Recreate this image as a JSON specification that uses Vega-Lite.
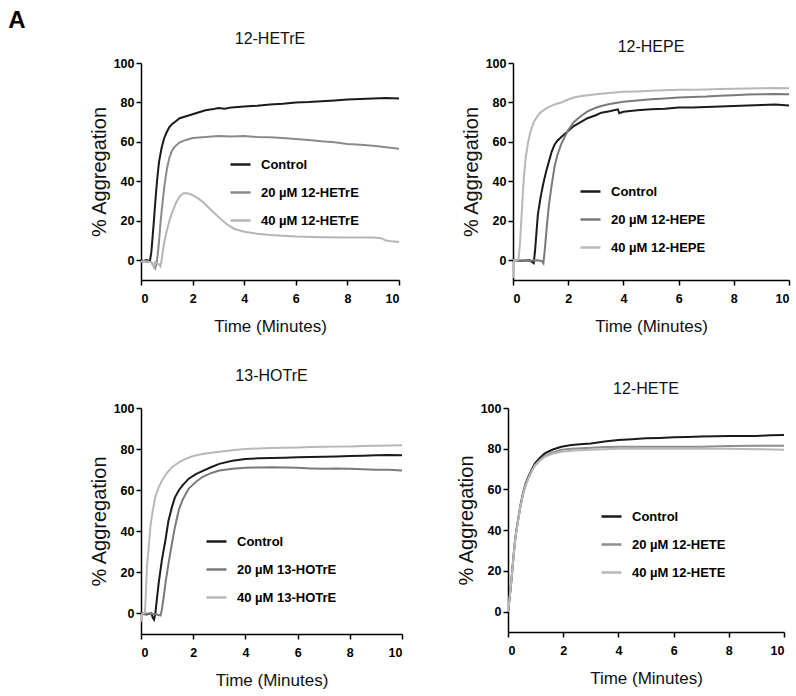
{
  "$schema": "https://vega.github.io/schema/vega-lite/v6.json",
  "padding": {"left": 8, "top": 9, "right": 5, "bottom": 5},
  "title": {"text": "A", "anchor": "start", "frame": "bounds", "fontSize": 24, "fontWeight": "bold", "font": "Liberation Sans", "color": "#000", "dx": -81, "dy": 2, "offset": 0},
  "datasets": {
    "d": [
      {"p":1,"s":"Control","t":0,"v":0.3},{"p":1,"s":"Control","t":0.1,"v":-0.5},{"p":1,"s":"Control","t":0.2,"v":0.2},{"p":1,"s":"Control","t":0.3,"v":-0.3},{"p":1,"s":"Control","t":0.35,"v":0},{"p":1,"s":"Control","t":0.4,"v":4},{"p":1,"s":"Control","t":0.45,"v":12},{"p":1,"s":"Control","t":0.5,"v":20},{"p":1,"s":"Control","t":0.55,"v":29},{"p":1,"s":"Control","t":0.6,"v":37},{"p":1,"s":"Control","t":0.65,"v":44},{"p":1,"s":"Control","t":0.7,"v":50},{"p":1,"s":"Control","t":0.8,"v":57},{"p":1,"s":"Control","t":0.9,"v":62},{"p":1,"s":"Control","t":1.0,"v":65},{"p":1,"s":"Control","t":1.1,"v":67.5},{"p":1,"s":"Control","t":1.2,"v":69},{"p":1,"s":"Control","t":1.35,"v":70.5},{"p":1,"s":"Control","t":1.5,"v":72},{"p":1,"s":"Control","t":1.75,"v":73},{"p":1,"s":"Control","t":2,"v":74},{"p":1,"s":"Control","t":2.25,"v":75},{"p":1,"s":"Control","t":2.5,"v":76},{"p":1,"s":"Control","t":2.75,"v":76.5},{"p":1,"s":"Control","t":3,"v":77.2},{"p":1,"s":"Control","t":3.25,"v":76.8},{"p":1,"s":"Control","t":3.5,"v":77.5},{"p":1,"s":"Control","t":4,"v":78},{"p":1,"s":"Control","t":4.5,"v":78.3},{"p":1,"s":"Control","t":5,"v":79},{"p":1,"s":"Control","t":5.5,"v":79.3},{"p":1,"s":"Control","t":6,"v":80},{"p":1,"s":"Control","t":6.5,"v":80.2},{"p":1,"s":"Control","t":7,"v":80.6},{"p":1,"s":"Control","t":7.5,"v":81},{"p":1,"s":"Control","t":8,"v":81.5},{"p":1,"s":"Control","t":8.5,"v":81.8},{"p":1,"s":"Control","t":9,"v":82},{"p":1,"s":"Control","t":9.5,"v":82.3},{"p":1,"s":"Control","t":10,"v":82},
      {"p":1,"s":"20 µM 12-HETrE","t":0,"v":-0.5},{"p":1,"s":"20 µM 12-HETrE","t":0.2,"v":-0.3},{"p":1,"s":"20 µM 12-HETrE","t":0.4,"v":-1},{"p":1,"s":"20 µM 12-HETrE","t":0.5,"v":-3},{"p":1,"s":"20 µM 12-HETrE","t":0.55,"v":-4},{"p":1,"s":"20 µM 12-HETrE","t":0.6,"v":-2},{"p":1,"s":"20 µM 12-HETrE","t":0.65,"v":3},{"p":1,"s":"20 µM 12-HETrE","t":0.7,"v":10},{"p":1,"s":"20 µM 12-HETrE","t":0.75,"v":18},{"p":1,"s":"20 µM 12-HETrE","t":0.8,"v":25},{"p":1,"s":"20 µM 12-HETrE","t":0.85,"v":31},{"p":1,"s":"20 µM 12-HETrE","t":0.9,"v":37},{"p":1,"s":"20 µM 12-HETrE","t":1.0,"v":46},{"p":1,"s":"20 µM 12-HETrE","t":1.1,"v":52},{"p":1,"s":"20 µM 12-HETrE","t":1.2,"v":55.5},{"p":1,"s":"20 µM 12-HETrE","t":1.3,"v":57.5},{"p":1,"s":"20 µM 12-HETrE","t":1.5,"v":59.8},{"p":1,"s":"20 µM 12-HETrE","t":1.75,"v":61},{"p":1,"s":"20 µM 12-HETrE","t":2,"v":62},{"p":1,"s":"20 µM 12-HETrE","t":2.5,"v":62.5},{"p":1,"s":"20 µM 12-HETrE","t":3,"v":63},{"p":1,"s":"20 µM 12-HETrE","t":3.5,"v":62.8},{"p":1,"s":"20 µM 12-HETrE","t":4,"v":63},{"p":1,"s":"20 µM 12-HETrE","t":4.5,"v":62.5},{"p":1,"s":"20 µM 12-HETrE","t":5,"v":62.3},{"p":1,"s":"20 µM 12-HETrE","t":5.5,"v":62},{"p":1,"s":"20 µM 12-HETrE","t":6,"v":61.5},{"p":1,"s":"20 µM 12-HETrE","t":6.5,"v":61},{"p":1,"s":"20 µM 12-HETrE","t":7,"v":60.3},{"p":1,"s":"20 µM 12-HETrE","t":7.5,"v":59.8},{"p":1,"s":"20 µM 12-HETrE","t":8,"v":59},{"p":1,"s":"20 µM 12-HETrE","t":8.5,"v":58.5},{"p":1,"s":"20 µM 12-HETrE","t":9,"v":58},{"p":1,"s":"20 µM 12-HETrE","t":9.5,"v":57.3},{"p":1,"s":"20 µM 12-HETrE","t":10,"v":56.5},
      {"p":1,"s":"40 µM 12-HETrE","t":0,"v":-0.5},{"p":1,"s":"40 µM 12-HETrE","t":0.2,"v":-1},{"p":1,"s":"40 µM 12-HETrE","t":0.4,"v":-0.8},{"p":1,"s":"40 µM 12-HETrE","t":0.45,"v":-2},{"p":1,"s":"40 µM 12-HETrE","t":0.5,"v":-3.5},{"p":1,"s":"40 µM 12-HETrE","t":0.55,"v":-1},{"p":1,"s":"40 µM 12-HETrE","t":0.6,"v":-1.5},{"p":1,"s":"40 µM 12-HETrE","t":0.7,"v":-2},{"p":1,"s":"40 µM 12-HETrE","t":0.75,"v":-3},{"p":1,"s":"40 µM 12-HETrE","t":0.8,"v":0},{"p":1,"s":"40 µM 12-HETrE","t":0.85,"v":5},{"p":1,"s":"40 µM 12-HETrE","t":0.9,"v":9},{"p":1,"s":"40 µM 12-HETrE","t":1.0,"v":15},{"p":1,"s":"40 µM 12-HETrE","t":1.1,"v":20},{"p":1,"s":"40 µM 12-HETrE","t":1.2,"v":24},{"p":1,"s":"40 µM 12-HETrE","t":1.35,"v":29},{"p":1,"s":"40 µM 12-HETrE","t":1.5,"v":32.5},{"p":1,"s":"40 µM 12-HETrE","t":1.65,"v":34},{"p":1,"s":"40 µM 12-HETrE","t":1.8,"v":34},{"p":1,"s":"40 µM 12-HETrE","t":2,"v":33},{"p":1,"s":"40 µM 12-HETrE","t":2.2,"v":31.5},{"p":1,"s":"40 µM 12-HETrE","t":2.4,"v":29.5},{"p":1,"s":"40 µM 12-HETrE","t":2.6,"v":27},{"p":1,"s":"40 µM 12-HETrE","t":2.8,"v":24.5},{"p":1,"s":"40 µM 12-HETrE","t":3,"v":22},{"p":1,"s":"40 µM 12-HETrE","t":3.3,"v":18.5},{"p":1,"s":"40 µM 12-HETrE","t":3.6,"v":16},{"p":1,"s":"40 µM 12-HETrE","t":4,"v":14.5},{"p":1,"s":"40 µM 12-HETrE","t":4.5,"v":13.5},{"p":1,"s":"40 µM 12-HETrE","t":5,"v":12.8},{"p":1,"s":"40 µM 12-HETrE","t":6,"v":12},{"p":1,"s":"40 µM 12-HETrE","t":7,"v":11.7},{"p":1,"s":"40 µM 12-HETrE","t":8,"v":11.5},{"p":1,"s":"40 µM 12-HETrE","t":9,"v":11.5},{"p":1,"s":"40 µM 12-HETrE","t":9.3,"v":11.2},{"p":1,"s":"40 µM 12-HETrE","t":9.5,"v":10},{"p":1,"s":"40 µM 12-HETrE","t":9.7,"v":9.6},{"p":1,"s":"40 µM 12-HETrE","t":10,"v":9.2},
      {"p":2,"s":"Control","t":0,"v":0},{"p":2,"s":"Control","t":0.3,"v":-0.3},{"p":2,"s":"Control","t":0.6,"v":0},{"p":2,"s":"Control","t":0.7,"v":-1},{"p":2,"s":"Control","t":0.75,"v":-1.5},{"p":2,"s":"Control","t":0.8,"v":5},{"p":2,"s":"Control","t":0.85,"v":14},{"p":2,"s":"Control","t":0.9,"v":23},{"p":2,"s":"Control","t":1.0,"v":32},{"p":2,"s":"Control","t":1.1,"v":39},{"p":2,"s":"Control","t":1.2,"v":45},{"p":2,"s":"Control","t":1.3,"v":50},{"p":2,"s":"Control","t":1.4,"v":55},{"p":2,"s":"Control","t":1.5,"v":58.5},{"p":2,"s":"Control","t":1.6,"v":60.5},{"p":2,"s":"Control","t":1.75,"v":62.5},{"p":2,"s":"Control","t":2,"v":65.5},{"p":2,"s":"Control","t":2.2,"v":68},{"p":2,"s":"Control","t":2.45,"v":70},{"p":2,"s":"Control","t":2.7,"v":72},{"p":2,"s":"Control","t":3,"v":73.5},{"p":2,"s":"Control","t":3.2,"v":74.8},{"p":2,"s":"Control","t":3.5,"v":75.5},{"p":2,"s":"Control","t":3.8,"v":76.5},{"p":2,"s":"Control","t":3.85,"v":74.5},{"p":2,"s":"Control","t":4,"v":75.3},{"p":2,"s":"Control","t":4.5,"v":76},{"p":2,"s":"Control","t":5,"v":76.5},{"p":2,"s":"Control","t":5.5,"v":76.8},{"p":2,"s":"Control","t":6,"v":77.4},{"p":2,"s":"Control","t":6.5,"v":77.4},{"p":2,"s":"Control","t":7,"v":77.7},{"p":2,"s":"Control","t":7.5,"v":78},{"p":2,"s":"Control","t":8,"v":78.2},{"p":2,"s":"Control","t":8.5,"v":78.5},{"p":2,"s":"Control","t":9,"v":78.7},{"p":2,"s":"Control","t":9.5,"v":78.9},{"p":2,"s":"Control","t":10,"v":78.5},
      {"p":2,"s":"20 µM 12-HEPE","t":0,"v":0},{"p":2,"s":"20 µM 12-HEPE","t":0.5,"v":-0.3},{"p":2,"s":"20 µM 12-HEPE","t":0.9,"v":0},{"p":2,"s":"20 µM 12-HEPE","t":1.05,"v":-0.5},{"p":2,"s":"20 µM 12-HEPE","t":1.1,"v":-1.5},{"p":2,"s":"20 µM 12-HEPE","t":1.15,"v":5},{"p":2,"s":"20 µM 12-HEPE","t":1.2,"v":13},{"p":2,"s":"20 µM 12-HEPE","t":1.25,"v":21},{"p":2,"s":"20 µM 12-HEPE","t":1.3,"v":28},{"p":2,"s":"20 µM 12-HEPE","t":1.4,"v":38},{"p":2,"s":"20 µM 12-HEPE","t":1.5,"v":47},{"p":2,"s":"20 µM 12-HEPE","t":1.6,"v":53},{"p":2,"s":"20 µM 12-HEPE","t":1.75,"v":59},{"p":2,"s":"20 µM 12-HEPE","t":2,"v":66},{"p":2,"s":"20 µM 12-HEPE","t":2.2,"v":70},{"p":2,"s":"20 µM 12-HEPE","t":2.45,"v":73},{"p":2,"s":"20 µM 12-HEPE","t":2.7,"v":75.5},{"p":2,"s":"20 µM 12-HEPE","t":3,"v":77.3},{"p":2,"s":"20 µM 12-HEPE","t":3.2,"v":78.2},{"p":2,"s":"20 µM 12-HEPE","t":3.5,"v":79.2},{"p":2,"s":"20 µM 12-HEPE","t":4,"v":80.4},{"p":2,"s":"20 µM 12-HEPE","t":4.5,"v":81},{"p":2,"s":"20 µM 12-HEPE","t":5,"v":81.6},{"p":2,"s":"20 µM 12-HEPE","t":5.5,"v":82},{"p":2,"s":"20 µM 12-HEPE","t":6,"v":82.5},{"p":2,"s":"20 µM 12-HEPE","t":6.5,"v":82.8},{"p":2,"s":"20 µM 12-HEPE","t":7,"v":83},{"p":2,"s":"20 µM 12-HEPE","t":7.5,"v":83.4},{"p":2,"s":"20 µM 12-HEPE","t":8,"v":83.7},{"p":2,"s":"20 µM 12-HEPE","t":8.5,"v":84},{"p":2,"s":"20 µM 12-HEPE","t":9,"v":84.2},{"p":2,"s":"20 µM 12-HEPE","t":9.5,"v":84.3},{"p":2,"s":"20 µM 12-HEPE","t":10,"v":84.2},
      {"p":2,"s":"40 µM 12-HEPE","t":0,"v":-9},{"p":2,"s":"40 µM 12-HEPE","t":0.02,"v":0},{"p":2,"s":"40 µM 12-HEPE","t":0.1,"v":0},{"p":2,"s":"40 µM 12-HEPE","t":0.2,"v":0.5},{"p":2,"s":"40 µM 12-HEPE","t":0.25,"v":8},{"p":2,"s":"40 µM 12-HEPE","t":0.3,"v":20},{"p":2,"s":"40 µM 12-HEPE","t":0.35,"v":32},{"p":2,"s":"40 µM 12-HEPE","t":0.4,"v":43},{"p":2,"s":"40 µM 12-HEPE","t":0.46,"v":52},{"p":2,"s":"40 µM 12-HEPE","t":0.55,"v":60},{"p":2,"s":"40 µM 12-HEPE","t":0.64,"v":65.5},{"p":2,"s":"40 µM 12-HEPE","t":0.75,"v":70},{"p":2,"s":"40 µM 12-HEPE","t":0.88,"v":73},{"p":2,"s":"40 µM 12-HEPE","t":1.0,"v":75},{"p":2,"s":"40 µM 12-HEPE","t":1.25,"v":77.4},{"p":2,"s":"40 µM 12-HEPE","t":1.5,"v":79},{"p":2,"s":"40 µM 12-HEPE","t":1.75,"v":80},{"p":2,"s":"40 µM 12-HEPE","t":2,"v":81.5},{"p":2,"s":"40 µM 12-HEPE","t":2.2,"v":82.5},{"p":2,"s":"40 µM 12-HEPE","t":2.5,"v":83.3},{"p":2,"s":"40 µM 12-HEPE","t":3,"v":84.2},{"p":2,"s":"40 µM 12-HEPE","t":3.5,"v":84.8},{"p":2,"s":"40 µM 12-HEPE","t":4,"v":85.4},{"p":2,"s":"40 µM 12-HEPE","t":4.5,"v":85.6},{"p":2,"s":"40 µM 12-HEPE","t":5,"v":85.9},{"p":2,"s":"40 µM 12-HEPE","t":5.5,"v":86.2},{"p":2,"s":"40 µM 12-HEPE","t":6,"v":86.4},{"p":2,"s":"40 µM 12-HEPE","t":6.5,"v":86.5},{"p":2,"s":"40 µM 12-HEPE","t":7,"v":86.6},{"p":2,"s":"40 µM 12-HEPE","t":7.5,"v":86.8},{"p":2,"s":"40 µM 12-HEPE","t":8,"v":87},{"p":2,"s":"40 µM 12-HEPE","t":8.5,"v":87.1},{"p":2,"s":"40 µM 12-HEPE","t":9,"v":87.2},{"p":2,"s":"40 µM 12-HEPE","t":9.5,"v":87.3},{"p":2,"s":"40 µM 12-HEPE","t":10,"v":87.2},
      {"p":3,"s":"Control","t":0,"v":0},{"p":3,"s":"Control","t":0.2,"v":-0.5},{"p":3,"s":"Control","t":0.4,"v":0},{"p":3,"s":"Control","t":0.45,"v":-2},{"p":3,"s":"Control","t":0.5,"v":-3},{"p":3,"s":"Control","t":0.55,"v":0},{"p":3,"s":"Control","t":0.6,"v":6},{"p":3,"s":"Control","t":0.68,"v":15},{"p":3,"s":"Control","t":0.8,"v":26},{"p":3,"s":"Control","t":0.94,"v":36},{"p":3,"s":"Control","t":1.05,"v":45},{"p":3,"s":"Control","t":1.19,"v":52},{"p":3,"s":"Control","t":1.3,"v":56.5},{"p":3,"s":"Control","t":1.45,"v":60},{"p":3,"s":"Control","t":1.6,"v":62.5},{"p":3,"s":"Control","t":1.83,"v":65.6},{"p":3,"s":"Control","t":2.1,"v":67.8},{"p":3,"s":"Control","t":2.35,"v":69.3},{"p":3,"s":"Control","t":2.7,"v":71.3},{"p":3,"s":"Control","t":3,"v":72.8},{"p":3,"s":"Control","t":3.5,"v":74.3},{"p":3,"s":"Control","t":4,"v":75.2},{"p":3,"s":"Control","t":4.5,"v":75.5},{"p":3,"s":"Control","t":5,"v":75.7},{"p":3,"s":"Control","t":5.5,"v":75.8},{"p":3,"s":"Control","t":6,"v":76},{"p":3,"s":"Control","t":6.5,"v":76.2},{"p":3,"s":"Control","t":7,"v":76.3},{"p":3,"s":"Control","t":7.5,"v":76.4},{"p":3,"s":"Control","t":8,"v":76.6},{"p":3,"s":"Control","t":8.5,"v":76.8},{"p":3,"s":"Control","t":9,"v":77},{"p":3,"s":"Control","t":9.5,"v":77.1},{"p":3,"s":"Control","t":10,"v":77},
      {"p":3,"s":"20 µM 13-HOTrE","t":0,"v":-0.5},{"p":3,"s":"20 µM 13-HOTrE","t":0.3,"v":0},{"p":3,"s":"20 µM 13-HOTrE","t":0.6,"v":-0.5},{"p":3,"s":"20 µM 13-HOTrE","t":0.75,"v":-1},{"p":3,"s":"20 µM 13-HOTrE","t":0.8,"v":2},{"p":3,"s":"20 µM 13-HOTrE","t":0.87,"v":8},{"p":3,"s":"20 µM 13-HOTrE","t":0.94,"v":15},{"p":3,"s":"20 µM 13-HOTrE","t":1.05,"v":24},{"p":3,"s":"20 µM 13-HOTrE","t":1.19,"v":34.4},{"p":3,"s":"20 µM 13-HOTrE","t":1.3,"v":42},{"p":3,"s":"20 µM 13-HOTrE","t":1.45,"v":50.4},{"p":3,"s":"20 µM 13-HOTrE","t":1.6,"v":55.5},{"p":3,"s":"20 µM 13-HOTrE","t":1.83,"v":60.8},{"p":3,"s":"20 µM 13-HOTrE","t":2.1,"v":64},{"p":3,"s":"20 µM 13-HOTrE","t":2.35,"v":66.4},{"p":3,"s":"20 µM 13-HOTrE","t":2.7,"v":68.4},{"p":3,"s":"20 µM 13-HOTrE","t":3,"v":69.6},{"p":3,"s":"20 µM 13-HOTrE","t":3.5,"v":70.4},{"p":3,"s":"20 µM 13-HOTrE","t":4,"v":70.9},{"p":3,"s":"20 µM 13-HOTrE","t":4.5,"v":71.1},{"p":3,"s":"20 µM 13-HOTrE","t":5,"v":71.2},{"p":3,"s":"20 µM 13-HOTrE","t":5.5,"v":71},{"p":3,"s":"20 µM 13-HOTrE","t":6,"v":70.9},{"p":3,"s":"20 µM 13-HOTrE","t":6.5,"v":70.6},{"p":3,"s":"20 µM 13-HOTrE","t":7,"v":70.4},{"p":3,"s":"20 µM 13-HOTrE","t":7.5,"v":70.5},{"p":3,"s":"20 µM 13-HOTrE","t":8,"v":70.4},{"p":3,"s":"20 µM 13-HOTrE","t":8.5,"v":70.2},{"p":3,"s":"20 µM 13-HOTrE","t":9,"v":70},{"p":3,"s":"20 µM 13-HOTrE","t":9.5,"v":69.9},{"p":3,"s":"20 µM 13-HOTrE","t":10,"v":69.6},
      {"p":3,"s":"40 µM 13-HOTrE","t":0,"v":-4},{"p":3,"s":"40 µM 13-HOTrE","t":0.05,"v":0},{"p":3,"s":"40 µM 13-HOTrE","t":0.15,"v":0.5},{"p":3,"s":"40 µM 13-HOTrE","t":0.18,"v":8},{"p":3,"s":"40 µM 13-HOTrE","t":0.23,"v":23},{"p":3,"s":"40 µM 13-HOTrE","t":0.3,"v":33},{"p":3,"s":"40 µM 13-HOTrE","t":0.36,"v":42.4},{"p":3,"s":"40 µM 13-HOTrE","t":0.45,"v":50},{"p":3,"s":"40 µM 13-HOTrE","t":0.55,"v":56.8},{"p":3,"s":"40 µM 13-HOTrE","t":0.68,"v":61.5},{"p":3,"s":"40 µM 13-HOTrE","t":0.81,"v":64.8},{"p":3,"s":"40 µM 13-HOTrE","t":1.0,"v":68.5},{"p":3,"s":"40 µM 13-HOTrE","t":1.19,"v":71.2},{"p":3,"s":"40 µM 13-HOTrE","t":1.45,"v":73.5},{"p":3,"s":"40 µM 13-HOTrE","t":1.7,"v":75.2},{"p":3,"s":"40 µM 13-HOTrE","t":2,"v":76.6},{"p":3,"s":"40 µM 13-HOTrE","t":2.35,"v":77.6},{"p":3,"s":"40 µM 13-HOTrE","t":2.7,"v":78.2},{"p":3,"s":"40 µM 13-HOTrE","t":3,"v":78.7},{"p":3,"s":"40 µM 13-HOTrE","t":3.5,"v":79.4},{"p":3,"s":"40 µM 13-HOTrE","t":4,"v":80},{"p":3,"s":"40 µM 13-HOTrE","t":4.5,"v":80.3},{"p":3,"s":"40 µM 13-HOTrE","t":5,"v":80.5},{"p":3,"s":"40 µM 13-HOTrE","t":5.5,"v":80.7},{"p":3,"s":"40 µM 13-HOTrE","t":6,"v":80.8},{"p":3,"s":"40 µM 13-HOTrE","t":6.5,"v":81},{"p":3,"s":"40 µM 13-HOTrE","t":7,"v":81.1},{"p":3,"s":"40 µM 13-HOTrE","t":7.5,"v":81.2},{"p":3,"s":"40 µM 13-HOTrE","t":8,"v":81.3},{"p":3,"s":"40 µM 13-HOTrE","t":8.5,"v":81.5},{"p":3,"s":"40 µM 13-HOTrE","t":9,"v":81.6},{"p":3,"s":"40 µM 13-HOTrE","t":9.5,"v":81.8},{"p":3,"s":"40 µM 13-HOTrE","t":10,"v":81.9},
      {"p":4,"s":"Control","t":0,"v":0},{"p":4,"s":"Control","t":0.06,"v":7},{"p":4,"s":"Control","t":0.12,"v":15},{"p":4,"s":"Control","t":0.18,"v":24},{"p":4,"s":"Control","t":0.24,"v":33},{"p":4,"s":"Control","t":0.3,"v":39.5},{"p":4,"s":"Control","t":0.36,"v":44.6},{"p":4,"s":"Control","t":0.45,"v":52},{"p":4,"s":"Control","t":0.54,"v":57.9},{"p":4,"s":"Control","t":0.63,"v":62.5},{"p":4,"s":"Control","t":0.73,"v":66},{"p":4,"s":"Control","t":0.85,"v":69.5},{"p":4,"s":"Control","t":0.97,"v":72.7},{"p":4,"s":"Control","t":1.15,"v":75.5},{"p":4,"s":"Control","t":1.33,"v":77.7},{"p":4,"s":"Control","t":1.6,"v":79.5},{"p":4,"s":"Control","t":1.93,"v":81},{"p":4,"s":"Control","t":2.3,"v":81.8},{"p":4,"s":"Control","t":2.6,"v":82.2},{"p":4,"s":"Control","t":3,"v":82.6},{"p":4,"s":"Control","t":3.5,"v":83.5},{"p":4,"s":"Control","t":4,"v":84.3},{"p":4,"s":"Control","t":4.5,"v":84.7},{"p":4,"s":"Control","t":5,"v":85.1},{"p":4,"s":"Control","t":5.5,"v":85.3},{"p":4,"s":"Control","t":6,"v":85.6},{"p":4,"s":"Control","t":6.5,"v":85.8},{"p":4,"s":"Control","t":7,"v":86},{"p":4,"s":"Control","t":7.5,"v":86.1},{"p":4,"s":"Control","t":8,"v":86.3},{"p":4,"s":"Control","t":8.5,"v":86.3},{"p":4,"s":"Control","t":9,"v":86.3},{"p":4,"s":"Control","t":9.5,"v":86.6},{"p":4,"s":"Control","t":10,"v":86.8},
      {"p":4,"s":"20 µM 12-HETE","t":0,"v":0},{"p":4,"s":"20 µM 12-HETE","t":0.06,"v":7},{"p":4,"s":"20 µM 12-HETE","t":0.12,"v":15},{"p":4,"s":"20 µM 12-HETE","t":0.18,"v":24},{"p":4,"s":"20 µM 12-HETE","t":0.24,"v":33},{"p":4,"s":"20 µM 12-HETE","t":0.3,"v":39.5},{"p":4,"s":"20 µM 12-HETE","t":0.36,"v":44.6},{"p":4,"s":"20 µM 12-HETE","t":0.45,"v":52},{"p":4,"s":"20 µM 12-HETE","t":0.54,"v":57.5},{"p":4,"s":"20 µM 12-HETE","t":0.63,"v":62},{"p":4,"s":"20 µM 12-HETE","t":0.73,"v":65.5},{"p":4,"s":"20 µM 12-HETE","t":0.85,"v":69},{"p":4,"s":"20 µM 12-HETE","t":0.97,"v":72},{"p":4,"s":"20 µM 12-HETE","t":1.15,"v":74.5},{"p":4,"s":"20 µM 12-HETE","t":1.33,"v":76.5},{"p":4,"s":"20 µM 12-HETE","t":1.6,"v":78},{"p":4,"s":"20 µM 12-HETE","t":1.93,"v":79.5},{"p":4,"s":"20 µM 12-HETE","t":2.3,"v":80},{"p":4,"s":"20 µM 12-HETE","t":3,"v":80.5},{"p":4,"s":"20 µM 12-HETE","t":3.5,"v":80.8},{"p":4,"s":"20 µM 12-HETE","t":4,"v":81},{"p":4,"s":"20 µM 12-HETE","t":5,"v":81},{"p":4,"s":"20 µM 12-HETE","t":6,"v":81},{"p":4,"s":"20 µM 12-HETE","t":7,"v":81},{"p":4,"s":"20 µM 12-HETE","t":8,"v":81.3},{"p":4,"s":"20 µM 12-HETE","t":9,"v":81.5},{"p":4,"s":"20 µM 12-HETE","t":10,"v":81.5},
      {"p":4,"s":"40 µM 12-HETE","t":0,"v":0},{"p":4,"s":"40 µM 12-HETE","t":0.06,"v":7},{"p":4,"s":"40 µM 12-HETE","t":0.12,"v":15},{"p":4,"s":"40 µM 12-HETE","t":0.18,"v":24},{"p":4,"s":"40 µM 12-HETE","t":0.24,"v":32.5},{"p":4,"s":"40 µM 12-HETE","t":0.3,"v":39},{"p":4,"s":"40 µM 12-HETE","t":0.36,"v":44},{"p":4,"s":"40 µM 12-HETE","t":0.45,"v":51.5},{"p":4,"s":"40 µM 12-HETE","t":0.54,"v":57},{"p":4,"s":"40 µM 12-HETE","t":0.63,"v":61.5},{"p":4,"s":"40 µM 12-HETE","t":0.73,"v":65},{"p":4,"s":"40 µM 12-HETE","t":0.85,"v":68.5},{"p":4,"s":"40 µM 12-HETE","t":0.97,"v":71.5},{"p":4,"s":"40 µM 12-HETE","t":1.15,"v":74},{"p":4,"s":"40 µM 12-HETE","t":1.33,"v":76},{"p":4,"s":"40 µM 12-HETE","t":1.6,"v":77.5},{"p":4,"s":"40 µM 12-HETE","t":1.93,"v":78.5},{"p":4,"s":"40 µM 12-HETE","t":2.3,"v":79},{"p":4,"s":"40 µM 12-HETE","t":3,"v":79.5},{"p":4,"s":"40 µM 12-HETE","t":4,"v":80},{"p":4,"s":"40 µM 12-HETE","t":5,"v":80},{"p":4,"s":"40 µM 12-HETE","t":6,"v":80},{"p":4,"s":"40 µM 12-HETE","t":7,"v":80},{"p":4,"s":"40 µM 12-HETE","t":8,"v":80},{"p":4,"s":"40 µM 12-HETE","t":9,"v":79.8},{"p":4,"s":"40 µM 12-HETE","t":10,"v":79.5}
    ]
  },
  "data": {"name": "d"},
  "spacing": 33,
  "vconcat": [
    {
      "spacing": 61,
      "resolve": {"scale": {"color": "independent"}, "legend": {"color": "independent"}},
      "hconcat": [
        {
          "width": 258, "height": 217,
          "title": {"text": "12-HETrE", "offset": 10},
          "transform": [{"filter": "datum.p == 1"}],
          "mark": {"type": "line", "strokeWidth": 2, "clip": true},
          "encoding": {
            "x": {"field": "t", "type": "quantitative", "scale": {"domain": [0, 10], "nice": false}, "axis": {"values": [0, 2, 4, 6, 8, 10], "title": "Time (Minutes)"}},
            "y": {"field": "v", "type": "quantitative", "scale": {"domain": [-10, 100], "nice": false, "zero": false}, "axis": {"values": [0, 20, 40, 60, 80, 100], "title": "% Aggregation"}},
            "color": {"field": "s", "type": "nominal", "scale": {"domain": ["Control", "20 µM 12-HETrE", "40 µM 12-HETrE"], "range": ["#1a1a1a", "#8a8a8a", "#b5b5b5"]}, "legend": {"orient": "none", "legendX": 88, "legendY": 90, "title": null}}
          }
        },
        {
          "width": 276, "height": 217,
          "title": {"text": "12-HEPE", "offset": 2},
          "transform": [{"filter": "datum.p == 2"}],
          "mark": {"type": "line", "strokeWidth": 2, "clip": true},
          "encoding": {
            "x": {"field": "t", "type": "quantitative", "scale": {"domain": [0, 10], "nice": false}, "axis": {"values": [0, 2, 4, 6, 8, 10], "title": "Time (Minutes)"}},
            "y": {"field": "v", "type": "quantitative", "scale": {"domain": [-10, 100], "nice": false, "zero": false}, "axis": {"values": [0, 20, 40, 60, 80, 100], "title": "% Aggregation"}},
            "color": {"field": "s", "type": "nominal", "scale": {"domain": ["Control", "20 µM 12-HEPE", "40 µM 12-HEPE"], "range": ["#1a1a1a", "#7a7a7a", "#b8b8b8"]}, "legend": {"orient": "none", "legendX": 66, "legendY": 117, "title": null}}
          }
        }
      ]
    },
    {
      "spacing": 53,
      "resolve": {"scale": {"color": "independent"}, "legend": {"color": "independent"}},
      "hconcat": [
        {
          "width": 261, "height": 226,
          "title": {"text": "13-HOTrE", "offset": 18},
          "transform": [{"filter": "datum.p == 3"}],
          "mark": {"type": "line", "strokeWidth": 2, "clip": true},
          "encoding": {
            "x": {"field": "t", "type": "quantitative", "scale": {"domain": [0, 10], "nice": false}, "axis": {"values": [0, 2, 4, 6, 8, 10], "title": "Time (Minutes)"}},
            "y": {"field": "v", "type": "quantitative", "scale": {"domain": [-10, 100], "nice": false, "zero": false}, "axis": {"values": [0, 20, 40, 60, 80, 100], "title": "% Aggregation"}},
            "color": {"field": "s", "type": "nominal", "scale": {"domain": ["Control", "20 µM 13-HOTrE", "40 µM 13-HOTrE"], "range": ["#1a1a1a", "#7a7a7a", "#b8b8b8"]}, "legend": {"orient": "none", "legendX": 64, "legendY": 122, "title": null}}
          }
        },
        {
          "width": 276, "height": 224,
          "title": {"text": "12-HETE", "offset": 5},
          "transform": [{"filter": "datum.p == 4"}],
          "mark": {"type": "line", "strokeWidth": 2, "clip": true},
          "encoding": {
            "x": {"field": "t", "type": "quantitative", "scale": {"domain": [0, 10], "nice": false}, "axis": {"values": [0, 2, 4, 6, 8, 10], "title": "Time (Minutes)"}},
            "y": {"field": "v", "type": "quantitative", "scale": {"domain": [-10, 100], "nice": false, "zero": false}, "axis": {"values": [0, 20, 40, 60, 80, 100], "title": "% Aggregation"}},
            "color": {"field": "s", "type": "nominal", "scale": {"domain": ["Control", "20 µM 12-HETE", "40 µM 12-HETE"], "range": ["#1a1a1a", "#8e8e8e", "#b8b8b8"]}, "legend": {"orient": "none", "legendX": 92, "legendY": 97, "title": null}}
          }
        }
      ]
    }
  ],
  "config": {
    "view": {"stroke": null},
    "font": "Liberation Sans",
    "axis": {"grid": false, "domainColor": "#000", "domainWidth": 1.5, "tickColor": "#000", "tickWidth": 1.5, "tickSize": 5, "labelFont": "Liberation Sans", "labelFontWeight": "bold", "labelFontSize": 12.5, "labelColor": "#000", "titleFont": "Liberation Sans", "titleFontWeight": "normal", "titleColor": "#111"},
    "axisX": {"titleFontSize": 17, "titlePadding": 14, "labelPadding": 7},
    "axisY": {"titleFontSize": 20, "titlePadding": 4, "labelPadding": 2},
    "legend": {"symbolType": "stroke", "symbolStrokeWidth": 2.5, "symbolSize": 400, "labelFont": "Liberation Sans", "labelFontWeight": "bold", "labelFontSize": 13, "labelColor": "#000", "rowPadding": 9, "labelOffset": 9},
    "title": {"font": "Liberation Sans", "fontSize": 16, "fontWeight": "normal", "color": "#111", "offset": 14}
  }
}
